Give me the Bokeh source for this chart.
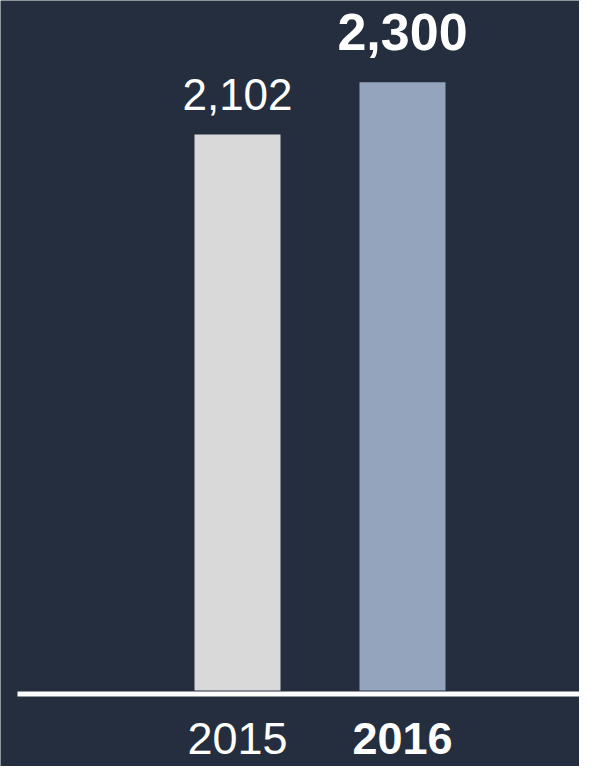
from bokeh.plotting import figure
from bokeh.models import Range1d, BoxAnnotation
from bokeh.core.properties import value
from bokeh.embed import file_html
from bokeh.resources import INLINE

# ---- data ----
years = ["2015", "2016"]
amounts = [2102, 2300]
amount_labels = ["2,102", "2,300"]

# ---- style ----
BG = "#252e3e"
BAR_COLORS = ["#d9d9d9", "#94a4bd"]
FONT = "Liberation Sans"
W, H = 579, 766

# pixel geometry of the layout
PX_PER_CAT = 165.0          # px between category centres
FIRST_CENTER_PX = 237.0     # px from left edge to first centre
PX_PER_VAL = 0.2645         # px per data unit
ZERO_PX_FROM_TOP = 690.0    # px from top to value 0

x_start = -FIRST_CENTER_PX / PX_PER_CAT
x_end = x_start + W / PX_PER_CAT
y_end = ZERO_PX_FROM_TOP / PX_PER_VAL
y_start = -(H - ZERO_PX_FROM_TOP) / PX_PER_VAL

p = figure(width=W, height=H, output_backend="svg", toolbar_location=None,
           x_range=Range1d(x_start, x_end), y_range=Range1d(y_start, y_end),
           min_border=0, background_fill_color=BG, border_fill_color=BG)
p.axis.visible = False
p.grid.visible = False
p.outline_line_color = None

xs = list(range(len(years)))
p.vbar(x=xs, top=amounts, bottom=0, width=86 / PX_PER_CAT,
       fill_color=BAR_COLORS, line_color=None)

# baseline
p.add_layout(BoxAnnotation(left=x_start + 17 / PX_PER_CAT,
                           top=-1 / PX_PER_VAL, bottom=-6 / PX_PER_VAL,
                           fill_color="white", fill_alpha=1, line_color=None))

n = len(years)
for i in range(n):
    hl = (i == n - 1)
    # value label
    p.text(x=[xs[i]], y=[amounts[i]], text=[amount_labels[i]],
           text_align="center", text_baseline="middle",
           y_offset=-50 if hl else -40,
           text_font=value(FONT),
           text_font_size="52px" if hl else "44px",
           text_font_style="bold" if hl else "normal",
           text_color="white")
    # category label
    p.text(x=[xs[i]], y=[0], text=[years[i]],
           text_align="center", text_baseline="middle",
           y_offset=48,
           text_font=value(FONT),
           text_font_size="45px",
           text_font_style="bold" if hl else "normal",
           text_color="white")

html = file_html(p, INLINE)
html = html.replace("<body", '<body style="background:%s"' % BG, 1)
open("out.html", "w").write(html)
